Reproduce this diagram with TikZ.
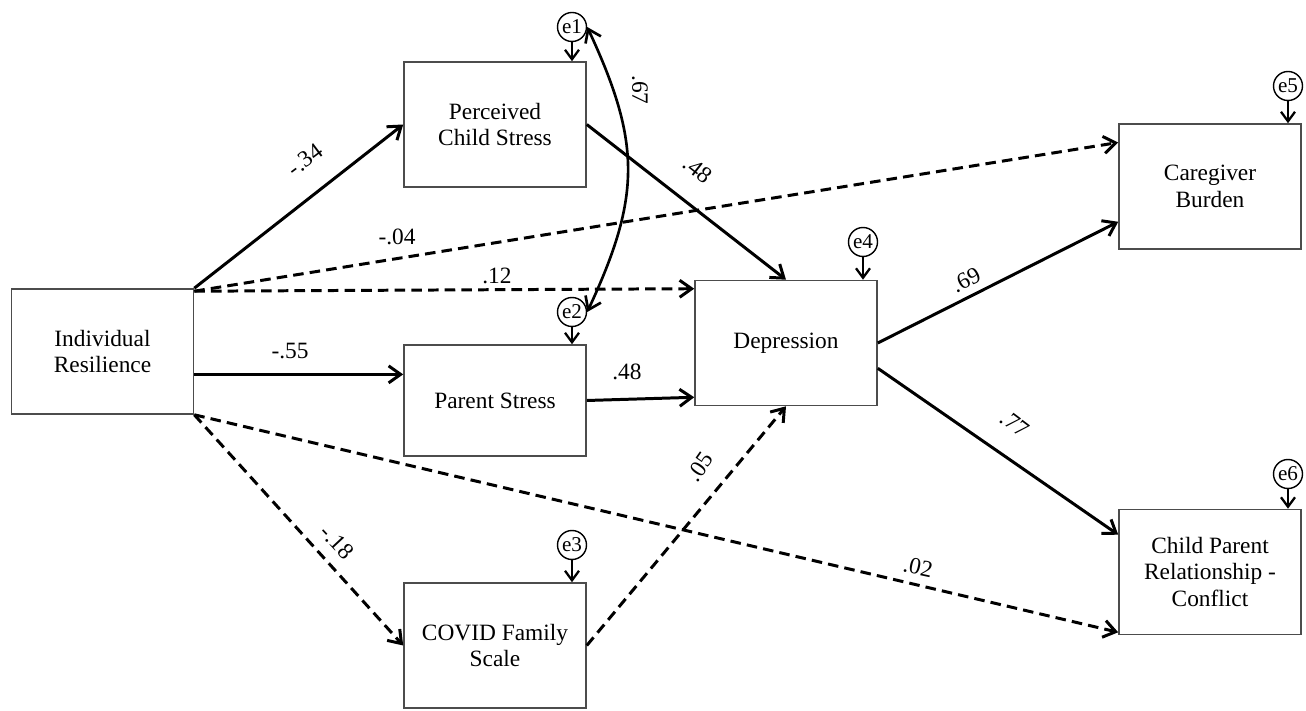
\documentclass[tikz,border=0pt]{standalone}
\usepackage{fontspec}
\setmainfont{Liberation Serif}
\usetikzlibrary{arrows.meta}

\begin{document}
\begin{tikzpicture}[
                box/.style = {draw = black!70, line width = 0.9pt, minimum width = 3.64cm, minimum height = 2.5cm, align = center, font = \fontsize{13.3}{15.2}\selectfont},
                err/.style = {draw, circle, line width = 0.8pt, fill = white, inner sep = 0mm, minimum size = 5.8mm, font = \fontsize{12}{12}\selectfont},
                coef/.style = {inner sep = 0mm, font = \fontsize{13.3}{13.3}\selectfont},
                arr/.style = {draw, line width = 1.7pt, -{Straight Barb[length = 2.4mm, width = 3.4mm]}},
                darr/.style = {arr, dash pattern = on 6pt off 3.5pt},
                earr/.style = {draw, line width = 1.3pt, -{Straight Barb[length = 1.9mm, width = 2.8mm]}},
                corr/.style = {draw, line width = 1.5pt, {Straight Barb[length = 2.4mm, width = 3.4mm]}-{Straight Barb[length = 2.4mm, width = 3.4mm]}},
            ]
            \useasboundingbox (0,0) rectangle (26.12,14.2);

            \node (IR) [box] at (2.05, 7.17) {Individual\\Resilience};
            \node (PCS) [box] at (9.9, 11.71) {Perceived\\Child Stress};
            \node (PS) [box, minimum height = 2.22cm] at (9.9, 6.19) {Parent Stress};
            \node (CFS) [box] at (9.9, 1.29) {COVID Family\\Scale};
            \node (DEP) [box] at (15.72, 7.34) {Depression};
            \node (CB) [box] at (24.2, 10.47) {Caregiver\\Burden};
            \node (CPR) [box] at (24.2, 2.76) {Child Parent\\Relationship -\\Conflict};

            \node (E1) [err] at (11.44, 13.66) {e1};
            \node (E2) [err] at (11.44, 7.96) {e2};
            \node (E3) [err] at (11.44, 3.30) {e3};
            \node (E4) [err] at (17.26, 9.36) {e4};
            \node (E5) [err] at (25.76, 12.48) {e5};
            \node (E6) [err] at (25.76, 4.72) {e6};

            \path[earr] (E1) -- (E1 |- PCS.north);
            \path[earr] (E2) -- (E2 |- PS.north);
            \path[earr] (E3) -- (E3 |- CFS.north);
            \path[earr] (E4) -- (E4 |- DEP.north);
            \path[earr] (E5) -- (E5 |- CB.north);
            \path[earr] (E6) -- (E6 |- CPR.north);

            \path[arr] (IR.north east) -- (PCS.west);
            \path[darr] ([yshift=-0.06cm]IR.north east) -- ([yshift=0.88cm]CB.west);
            \path[darr] ([yshift=-0.06cm]IR.north east) -- ([yshift=-0.18cm]DEP.north west);
            \path[arr] (IR.-14.6) -- (IR.-14.6 -| PS.west);
            \path[darr] (IR.south east) -- (CFS.west);
            \path[darr] (IR.south east) -- ([yshift=0.06cm]CPR.south west);

            \path[arr] (PCS.east) -- (DEP.north);
            \path[arr] (PS.east) -- ([yshift=0.18cm]DEP.south west);
            \path[darr] (CFS.east) -- (DEP.south);

            \path[arr] (DEP.east) -- ([yshift=0.56cm]CB.south west);
            \path[arr] ([yshift=0.76cm]DEP.south east) -- ([yshift=-0.52cm]CPR.north west);

            \path[corr] (E1.east) to[out=-65, in=65, looseness=1.15] (E2.east);

            \node (C1) [coef, rotate=37] at (6.10, 11.00) {-.34};
            \node (C2) [coef] at (7.94, 9.46) {-.04};
            \node (C3) [coef] at (9.94, 8.68) {.12};
            \node (C4) [coef] at (5.80, 7.18) {-.55};
            \node (C5) [coef, rotate=-47] at (6.74, 3.36) {-.18};
            \node (C6) [coef, rotate=-38] at (13.96, 10.80) {.48};
            \node (C7) [coef] at (12.54, 6.76) {.48};
            \node (C8) [coef, rotate=55] at (14.00, 4.86) {.05};
            \node (C9) [coef, rotate=-12] at (18.36, 2.86) {.02};
            \node (C10) [coef, rotate=27] at (19.32, 8.60) {.69};
            \node (C11) [coef, rotate=-37] at (20.30, 5.72) {.77};
            \node (C12) [coef, rotate=-90] at (12.80, 12.40) {.67};
        \end{tikzpicture}
\end{document}
